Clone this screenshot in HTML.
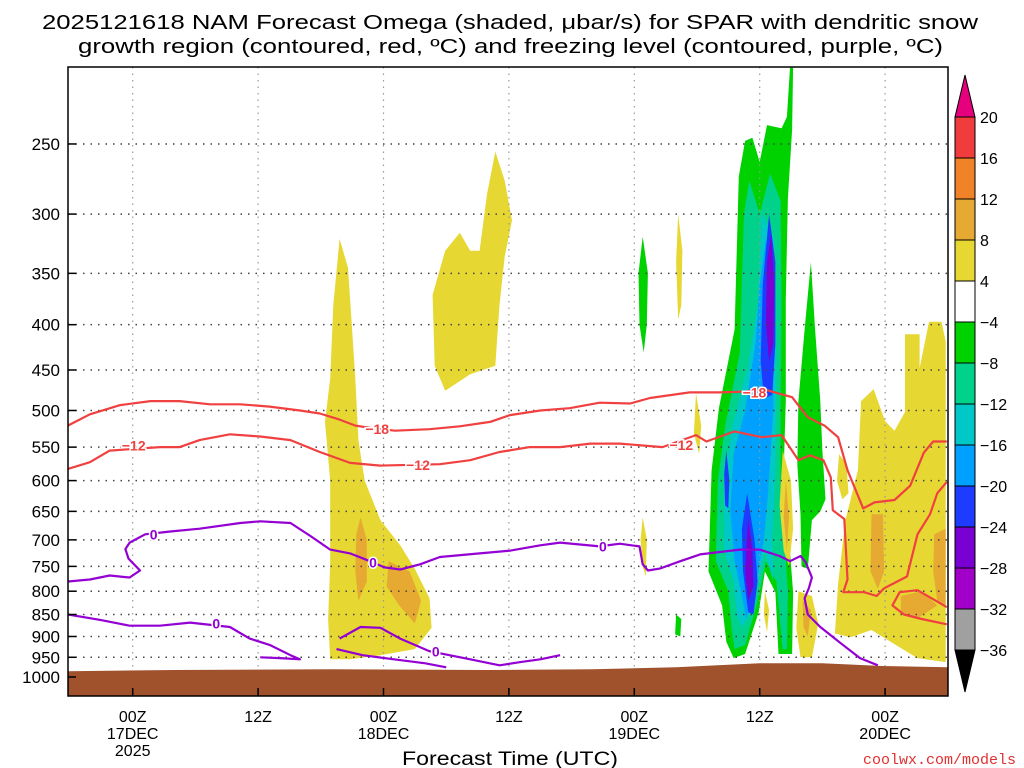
<!DOCTYPE html>
<html><head><meta charset="utf-8"><style>
html,body{margin:0;padding:0;background:#fff;}
svg{display:block;font-family:"Liberation Sans",sans-serif;}
</style></head><body>
<svg id="chart" width="1024" height="768" viewBox="0 0 1024 768" xmlns="http://www.w3.org/2000/svg">
<text x="42" y="29" font-size="20" textLength="936" lengthAdjust="spacingAndGlyphs">2025121618 NAM Forecast Omega (shaded, μbar/s) for SPAR with dendritic snow</text>
<text x="78" y="53" font-size="20" textLength="865" lengthAdjust="spacingAndGlyphs">growth region (contoured, red, ºC) and freezing level (contoured, purple, ºC)</text>
<g id="shade"></g>
<g id="grid"></g>
<g id="ground"></g>
<g id="contours"></g>
<rect x="68" y="67" width="880" height="629" fill="none" stroke="#000" stroke-width="1.5"/>
<g id="axes"></g>
<g id="cbar"></g>
<text x="510" y="765" font-size="19" text-anchor="middle" textLength="216" lengthAdjust="spacingAndGlyphs">Forecast Time (UTC)</text>
<text x="1016" y="764" font-size="15" fill="#e03030" text-anchor="end" font-family="Liberation Mono, monospace">coolwx.com/models</text>
</svg>
<script>
const pressureTicks=[250,300,350,400,450,500,550,600,650,700,750,800,850,900,950,1000];
const timeTicks=[6,18,30,42,54,66,78];
const timeLabels=[["00Z","17DEC","2025"],["12Z"],["00Z","18DEC"],["12Z"],["00Z","19DEC"],["12Z"],["00Z","20DEC"]];
const cbarLevels=["20","16","12","8","4","−4","−8","−12","−16","−20","−24","−28","−32","−36"];
const cbarColors=["#f03c3c","#f08228","#e6aa32","#e6d732","#ffffff","#00d200","#00d28c","#00c8c8","#00a0ff","#1e3cff","#7800d2","#a000c8","#a0a0a0"];
const C={y:"#e6d732",o:"#e6aa32",g:"#00d200",t:"#00d28c",c:"#00c8c8",lb:"#00a0ff",b:"#1e3cff",p:"#7800d2"};
const blobs=[
 ["y",[[25.8,320],[26.6,345],[27,405],[27.3,460],[27.6,540],[28.2,600],[29.7,665],[31.6,710],[33,755],[34.4,815],[34.6,880],[33,930],[29.7,945],[26.8,955],[24.9,955],[24.7,860],[24.9,745],[24.9,600],[24.4,515],[24.9,460],[25.2,380]]],
 ["o",[[27.8,660],[28.4,700],[28.4,780],[27.6,820],[27.3,760],[27.4,690]]],
 ["o",[[30.5,740],[32.5,760],[33.6,820],[33,870],[31.5,830],[30.3,790]]],
 ["y",[[40.7,255],[41.6,275],[42.3,305],[41.6,335],[41.1,380],[40.7,445],[38.3,455],[35.9,475],[34.9,445],[34.7,370],[35.9,330],[37.3,315],[38.3,330],[39.2,330],[39.9,285]]],
 ["g",[[54.8,318],[55.3,350],[55.2,400],[54.9,430],[54.5,400],[54.4,350]]],
 ["y",[[58.2,300],[58.6,330],[58.5,380],[58.2,395],[58,340]]],
 ["y",[[54.8,660],[55.2,700],[55.1,770],[54.8,750],[54.6,700]]],
 ["y",[[59.9,478],[60.4,520],[60.2,560],[59.7,530]]],
 ["g",[[58,850],[58.5,860],[58.4,900],[57.9,895]]],
 ["g",[[64.6,248],[65.3,246],[66,262],[66.7,238],[68.1,240],[68.6,233],[68.9,205],[69.2,205],[69.1,241],[68.7,288],[68.5,375],[68.5,488],[68.3,584],[68.6,650],[69.2,802],[69.1,942],[67.8,942],[67.5,802],[66.5,760],[65.9,845],[64.6,942],[63.5,952],[62.8,912],[62.4,830],[61.1,760],[61.4,584],[62.1,497],[63.6,405],[64,272]]],
 ["t",[[65,275],[66,300],[67,270],[68,290],[68.1,380],[68,500],[68,600],[68.7,800],[68.6,930],[68.2,930],[67.6,780],[66.6,740],[65.7,830],[64.6,920],[63.6,930],[63.3,880],[63,800],[61.8,740],[62,600],[62.7,520],[64.1,430],[64.5,300]]],
 ["c",[[66.2,300],[67.4,320],[67.6,450],[67.5,580],[67.2,700],[67.3,780],[66.5,720],[65.3,840],[64.3,880],[63.8,850],[63.5,780],[62.6,720],[62.6,600],[63.4,520],[64.8,450],[65.8,380]]],
 ["lb",[[66.6,320],[67.3,380],[67.3,500],[66.8,620],[66.4,700],[65.5,800],[64.7,860],[64.2,800],[63.6,740],[63.2,650],[63.5,560],[64.6,500],[65.6,420],[66,360]]],
 ["b",[[66.9,300],[67.5,340],[67.5,420],[67.2,480],[66.4,485],[66.1,440],[66.3,360]]],
 ["b",[[64.8,620],[65.5,700],[65.8,780],[65.4,850],[64.9,845],[64.4,760],[64.3,680]]],
 ["b",[[62.8,555],[63.1,600],[63,645],[62.7,640],[62.6,590]]],
 ["p",[[67.1,315],[67.4,360],[67.3,420],[66.9,440],[66.6,400],[66.7,340]]],
 ["p",[[64.9,660],[65.3,720],[65.4,790],[64.9,820],[64.6,760]]],
 ["g",[[70.9,340],[71.3,405],[71.8,488],[72,555],[72.3,630],[71.8,650],[71,665],[70.6,755],[70,750],[69.9,655],[69.6,575],[69.7,488],[70.3,405]]],
 ["y",[[68.2,555],[69,600],[69.2,680],[68.8,750],[68.3,720],[67.9,640]]],
 ["o",[[68.5,600],[68.8,660],[68.6,720],[68.3,660]]],
 ["y",[[69.7,800],[71,810],[71.6,870],[71,950],[69.9,950],[69.5,880]]],
 ["o",[[70.1,820],[70.9,840],[70.6,900],[70.2,880]]],
 ["y",[[66.5,800],[66.9,840],[66.7,890],[66.4,850]]],
 ["y",[[73.2,893],[73.5,785],[74.2,665],[75.4,584],[75.7,488],[76.9,473],[78,514],[78.9,527],[79.9,502],[79.9,410],[81.3,410],[81.3,448],[82.2,397],[83.4,397],[83.8,418],[83.8,962],[81.1,952],[78.5,912],[76.7,885],[74.7,902]]],
 ["y",[[73.6,560],[74.3,575],[74.5,620],[73.9,630],[73.4,600]]],
 ["o",[[76.7,655],[77.8,655],[77.9,760],[77.3,795],[76.6,760]]],
 ["o",[[82.7,690],[83.8,680],[83.8,830],[83,820],[82.6,760]]],
 ["o",[[79.5,810],[81.5,800],[83,830],[81,860],[79.5,850]]]
];
const groundP=[[-0.2,985],[10,982],[25,980],[40,982],[50,980],[58,975],[66,965],[72,965],[78,972],[84.5,975]];
const line18=[[-0.2,520],[1.9,505],[4.8,493],[7.7,488],[10.5,488],[13.4,492],[16.3,492],[19.1,495],[22,500],[23.9,504],[25.8,512],[27.3,520],[28.7,523],[31.1,527],[34.4,525],[37.3,521],[40.2,515],[42.1,506],[45,500],[47.8,497],[50.7,490],[53.6,491],[55.5,484],[59.3,477],[62.2,477],[64.6,476],[66.3,473],[69.1,483],[70.6,509],[72.2,520],[73.5,536],[74.4,584],[75.9,645],[77,635],[78.9,631],[80.4,608],[81.7,558],[82.6,542],[83.9,542]];
const line12=[[-0.2,582],[1.9,572],[3.8,555],[8.6,550],[10.5,550],[12.4,540],[15.3,532],[18.2,535],[21.1,540],[23.9,557],[26.8,573],[29.7,577],[35.4,575],[38.3,569],[41.1,557],[44,550],[46.9,550],[49.8,545],[52.6,545],[56.7,550],[59.9,533],[60.9,542],[63.6,528],[66.2,536],[68.1,533],[69.7,569],[70.8,562],[72.1,569],[72.8,595],[73,648],[74.1,663],[74.4,776],[74,802],[76,802],[77.2,810],[77.9,794],[80.1,770],[81.1,690],[82.3,655],[83,620],[83.9,602]];
const line12b=[[83.9,834],[82.7,818],[81.1,798],[79.4,802],[78.7,830],[79.8,850],[81.5,860],[83.9,872]];
const frz1=[[-0.2,780],[1.9,776],[3.8,768],[5.7,772],[6.7,758],[5.6,735],[5.3,717],[5.7,705],[7.2,690],[9.6,685],[12.4,680],[16.3,670],[18.2,667],[21.1,670],[23,693],[24.9,718],[26.8,725],[28.7,740],[30.1,752],[31.6,756],[33.5,746],[35.4,732],[39.2,725],[42.1,720],[45,710],[46.9,705],[50.7,712],[52.6,707],[54.5,712],[54.8,746],[55.3,758],[56.5,754],[58.4,740],[60.3,727],[64.1,718],[66,718],[67.9,730],[68.9,740],[69.9,730],[70.4,742],[71,772],[70.7,794],[70.3,815],[70.6,850],[71.8,878],[73.7,915],[75.6,952],[77.3,970]];
const frz2=[[-0.2,850],[2.9,862],[5.7,875],[8.6,875],[11.5,868],[15.3,878],[17.2,905],[19.1,920],[21.1,945],[22,955],[20.1,952],[18.2,950]];
const frz3=[[25.8,905],[27.8,878],[29.7,880],[31.6,905],[34.4,935],[38.3,955],[41.1,970],[43.1,962],[45,955],[46.9,945]];
const frz4=[[25.5,930],[28,945],[31,955],[34,965],[36,975]];
const redLabels=[["−18",29.4,525],["−18",65.5,477],["−12",6.1,548],["−12",33.3,576],["−12",58.5,547]];
const purpleLabels=[["0",8,690],["0",29,742],["0",51,712],["0",14,870],["0",35,936]];

const NS="http://www.w3.org/2000/svg";
const X0=68,X1=948,Y0=67,Y1=696;
function xs(h){return 70+h*10.45;}
function ys(p){return 677-384.5*Math.log(1000/p);}
function mk(tag,attrs,parent){const e=document.createElementNS(NS,tag);for(const k in attrs)e.setAttribute(k,attrs[k]);parent.appendChild(e);return e;}
function pts(a){return a.map(d=>xs(d[0]).toFixed(1)+","+ys(d[1]).toFixed(1)).join(" ");}
const svg=document.getElementById('chart');
const defs=mk('defs',{},svg);const cp=mk('clipPath',{id:'pc'},defs);mk('rect',{x:X0,y:Y0,width:X1-X0,height:Y1-Y0},cp);
const shade=document.getElementById('shade');shade.setAttribute('clip-path','url(#pc)');
blobs.forEach((b,i)=>{const e=mk('polygon',{points:pts(b[1]),fill:C[b[0]]},shade);

});
const grid=document.getElementById('grid');
pressureTicks.forEach(p=>{const e=mk('line',{x1:X0,x2:X1,y1:ys(p),y2:ys(p),stroke:'#444','stroke-width':1.5,'stroke-dasharray':'1.5,6'},grid);

});
timeTicks.forEach(h=>{const e=mk('line',{x1:xs(h),x2:xs(h),y1:Y0,y2:Y1,stroke:'#999','stroke-width':1.2,'stroke-dasharray':'1.5,5'},grid);

});
const gr=document.getElementById('ground');
const gpoly=pts(groundP)+" "+xs(84.5)+","+Y1+" "+xs(-0.2)+","+Y1;
const ge=mk('polygon',{points:gpoly,fill:'#a0522d'},gr);ge.setAttribute('clip-path','url(#pc)');


const ct=document.getElementById('contours');ct.setAttribute('clip-path','url(#pc)');
[[line18,'#f04040','contour-minus18'],[line12,'#f04040','contour-minus12'],[line12b,'#f04040','contour-minus12-loop'],[frz1,'#9400d3','freezing-level-upper'],[frz2,'#9400d3','freezing-level-lower'],[frz3,'#9400d3','freezing-level-lower-2'],[frz4,'#9400d3','freezing-level-lower-3']].forEach(l=>{
const e=mk('polyline',{points:pts(l[0]),fill:'none',stroke:l[1],'stroke-width':2.2,'stroke-linejoin':'round'},ct);

});
redLabels.forEach(l=>{const x=xs(l[1]),y=ys(l[2]);
const t=mk('text',{x:x,y:y+5,'font-size':14,'font-weight':'bold',fill:'#f04040','text-anchor':'middle',stroke:'#fff','stroke-width':3,'paint-order':'stroke'},ct);t.textContent=l[0];

});
purpleLabels.forEach(l=>{const t=mk('text',{x:xs(l[1]),y:ys(l[2])+5,'font-size':14,'font-weight':'bold',fill:'#9400d3','text-anchor':'middle',stroke:'#fff','stroke-width':3,'paint-order':'stroke'},ct);t.textContent=l[0];

});
const ax=document.getElementById('axes');
pressureTicks.forEach(p=>{mk('line',{x1:X0,x2:X0+8,y1:ys(p),y2:ys(p),stroke:'#000','stroke-width':1.5},ax);
const t=mk('text',{x:60,y:ys(p)+6,'font-size':17,'text-anchor':'end'},ax);t.textContent=p;

});
timeTicks.forEach((h,i)=>{mk('line',{x1:xs(h),x2:xs(h),y1:Y1,y2:Y1-8,stroke:'#000','stroke-width':1.5},ax);
timeLabels[i].forEach((s,j)=>{const t=mk('text',{x:xs(h),y:722+j*17,'font-size':16,'text-anchor':'middle'},ax);t.textContent=s;

});});
const cb=document.getElementById('cbar');
const cbx=955,cbw=20,cbTop=117,cbStep=41;
const tt=mk('polygon',{points:`${cbx},${cbTop} ${cbx+cbw},${cbTop} ${cbx+cbw/2},75`,fill:'#e6007e',stroke:'#000','stroke-width':1},cb);


cbarColors.forEach((c,i)=>{const r=mk('rect',{x:cbx,y:cbTop+i*cbStep,width:cbw,height:cbStep,fill:c,stroke:'#000','stroke-width':1},cb);

});
const yb=cbTop+cbarColors.length*cbStep;
const bt=mk('polygon',{points:`${cbx},${yb} ${cbx+cbw},${yb} ${cbx+cbw/2},${yb+42}`,fill:'#000',stroke:'#000','stroke-width':1},cb);


cbarLevels.forEach((s,i)=>{const t=mk('text',{x:980,y:cbTop+i*cbStep+6,'font-size':16},cb);t.textContent=s;

});
</script>
</body></html>
